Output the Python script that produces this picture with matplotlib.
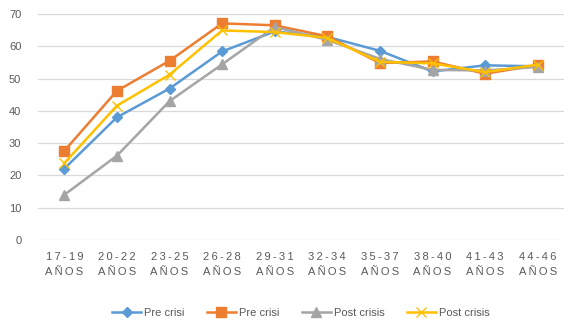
import matplotlib
matplotlib.use("Agg")
import matplotlib.pyplot as plt

categories = ["17-19 AÑOS", "20-22 AÑOS", "23-25 AÑOS", "26-28 AÑOS", "29-31 AÑOS",
              "32-34 AÑOS", "35-37 AÑOS", "38-40 AÑOS", "41-43 AÑOS", "44-46 AÑOS"]
pre_crisi_1 = [22.1, 38.0, 46.9, 58.4, 64.6, 62.9, 58.6, 52.2, 54.1, 53.8]
pre_crisi_2 = [27.6, 46.2, 55.5, 67.1, 66.5, 63.1, 54.8, 55.3, 51.5, 54.2]
post_crisis_1 = [14.0, 26.1, 43.0, 54.4, 66.0, 62.0, 56.1, 52.7, 52.5, 53.6]
post_crisis_2 = [23.8, 41.6, 51.2, 64.9, 64.4, 62.6, 55.2, 54.7, 52.0, 54.3]
series_names = ["Pre crisi", "Pre crisi", "Post crisis", "Post crisis"]
yticks = [0, 10, 20, 30, 40, 50, 60, 70]

plt.rcParams['font.family'] = ['Liberation Sans', 'DejaVu Sans']

fig = plt.figure(figsize=(5.74, 3.30), dpi=100)
ax = fig.add_axes([38/574, 1-240/330, (564-38)/574, (240-14)/330])

x = list(range(len(categories)))
styles = [
    (pre_crisi_1, "#5B9BD5", "D", 5.5, {}),
    (pre_crisi_2, "#ED7D31", "s", 7, {}),
    (post_crisis_1, "#A5A5A5", "^", 7, {}),
    (post_crisis_2, "#FFC000", "x", 7, {"markeredgewidth": 1.0}),
]
for (vals, col, mk, ms, kw), name in zip(styles, series_names):
    ax.plot(x, vals, color=col, marker=mk, markersize=ms, linewidth=1.8,
            label=name, **kw)

ax.set_xlim(-0.5, len(categories) - 0.5)
ax.set_ylim(0, 70)
ax.set_yticks(yticks)
ax.grid(axis='y', color='#D9D9D9', linewidth=0.9)
ax.set_axisbelow(True)
for s in ax.spines.values():
    s.set_visible(False)

def spaced(t):
    parts = t.split(" ")
    return "\n".join("\u2009".join(p) for p in parts)

ax.set_xticks(x)
ax.set_xticklabels([spaced(c) for c in categories], fontsize=8, color='#595959',
                   linespacing=1.6)
ax.tick_params(axis='both', length=0, colors='#595959', labelsize=8)
ax.tick_params(axis='x', pad=9)
ax.tick_params(axis='y', pad=12)

leg = ax.legend(loc='upper center', bbox_to_anchor=(0.5, -0.255), ncol=4,
                frameon=False, fontsize=8, handlelength=2.6, columnspacing=2.0,
                handletextpad=0.3, labelcolor='#595959')

fig.savefig("out.png", dpi=100)
